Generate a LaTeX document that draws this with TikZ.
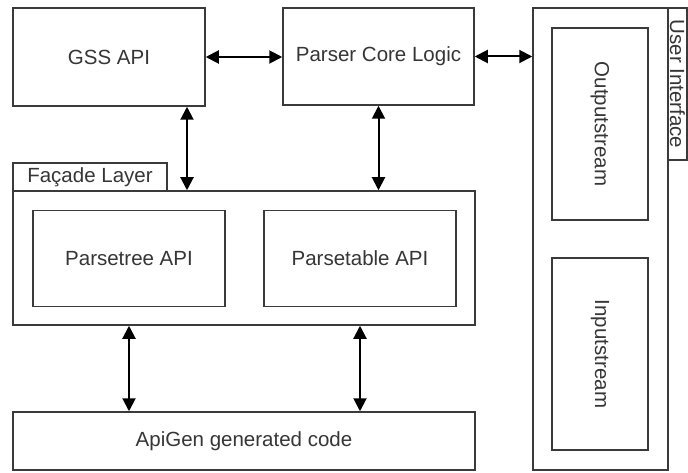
\documentclass[tikz,border=0pt]{standalone}
\usepackage{fontspec}
\setmainfont{Liberation Sans}
\usetikzlibrary{arrows.meta,calc}
\definecolor{edgegray}{HTML}{3A3A3A}
\definecolor{textgray}{HTML}{363636}
\tikzset{
  box/.style={draw=edgegray, line width=1.5pt, fill=white, rectangle, inner sep=0pt,
              text=textgray, font=\fontsize{20.5}{24}\selectfont},
  vlabel/.style={text=textgray, font=\fontsize{20.5}{24}\selectfont, rotate=-90},
  link/.style={line width=2pt, draw=black,
               {Triangle[length=13pt,width=13pt]}-{Triangle[length=13pt,width=13pt]}}
}
\begin{document}
\begin{tikzpicture}[x=1pt,y=-1pt]
  \useasboundingbox (0,0) rectangle (688,473);

  % top row
  \node[box, minimum width=192pt, minimum height=98pt] (gss) at (109,57) {GSS API};
  \node[box, minimum width=191pt, minimum height=97pt] (core) at (378.5,56.5) {Parser Core Logic};

  % user interface column
  \node[box, minimum width=135pt, minimum height=462pt] (ui) at (600.5,239) {};
  \node[box, minimum width=19pt, minimum height=152pt] (uitab) at (677.5,84) {};
  \node[vlabel] (uilabel) at (uitab.center) {User Interface};
  \node[box, minimum width=96pt, minimum height=192pt] (outs) at (600,124) {};
  \node[vlabel] (outlabel) at (outs.center) {Outputstream};
  \node[box, minimum width=96pt, minimum height=192pt] (ins) at (600,354) {};
  \node[vlabel] (inlabel) at (ins.center) {Inputstream};

  % facade layer
  \node[box, minimum width=154pt, minimum height=28pt] (factab) at (90,177) {Façade Layer};
  \node[box, minimum width=462pt, minimum height=134pt] (facade) at (244,258) {};
  \node[box, minimum width=192pt, minimum height=96pt] (ptree) at (129,258.5) {Parsetree API};
  \node[box, minimum width=192pt, minimum height=96pt] (ptable) at (360,258.5) {Parsetable API};

  % generated code
  \node[box, minimum width=462pt, minimum height=58pt] (apigen) at (244,441) {ApiGen generated code};

  % connectors
  \coordinate (gssdrop) at (187,0);
  \draw[link] (gss.east) -- (gss.east -| core.west);
  \draw[link] (core.east) -- (core.east -| ui.west);
  \draw[link] (gss.south -| gssdrop) -- (facade.north -| gssdrop);
  \draw[link] (core.south) -- (core.south |- facade.north);
  \draw[link] (ptree.south |- facade.south) -- (ptree.south |- apigen.north);
  \draw[link] (ptable.south |- facade.south) -- (ptable.south |- apigen.north);
\end{tikzpicture}
\end{document}
